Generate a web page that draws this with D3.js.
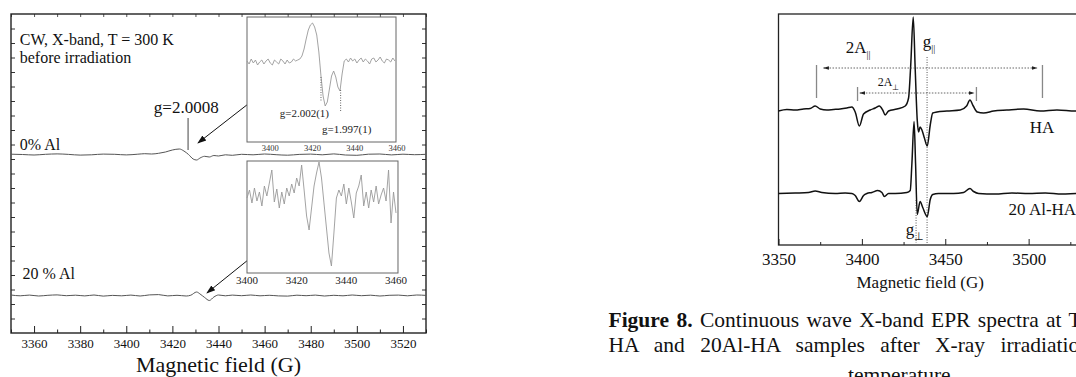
<!DOCTYPE html>
<html><head><meta charset="utf-8">
<script src="https://cdn.jsdelivr.net/npm/d3@7"></script>
<style>body{margin:0;background:#fff}svg{display:block}</style>
</head><body><svg id="c" width="1076" height="377"></svg>
<script>
// ---------------- DATA ----------------
const leftTicks = [3360,3380,3400,3420,3440,3460,3480,3500,3520];
const leftMinor = [3350,3370,3390,3410,3430,3450,3470,3490,3510,3530];
const inset1Ticks = [3400,3420,3440,3460];
const inset2Ticks = [3400,3420,3440,3460];
const rightTicks = [3350,3400,3450,3500];
const rightMinor = [3375,3425,3475,3525];

// 0% Al main spectrum (field G, signal a.u.)
const al0Field = [3350,3355,3360,3365,3370,3375,3380,3385,3390,3395,3400,3405,3408,3411,3414,3417,3420,3423,3425,3427,3429,3430.5,3432,3434,3436,3438,3440,3443,3446,3450,3455,3460,3465,3470,3475,3480,3485,3490,3495,3500,3505,3510,3515,3520,3525,3530];
const al0Value = [0.3,0,-0.5,0.2,0.6,0.1,-0.6,-0.3,0.4,0.2,-0.4,0.3,0.8,0.5,1.2,2.5,4.5,5.5,3.5,0,-4.5,-5.5,-3.5,-1.8,-2.5,-1,-1.5,-0.3,-0.8,0.2,-0.3,0.5,-0.2,-0.7,0.1,0.4,-0.3,0.6,-0.5,-0.8,0.3,0.5,-0.4,0.3,-0.2,0.2];
// 20 % Al main spectrum
const al20Field = [3350,3354,3358,3362,3366,3370,3374,3378,3382,3386,3390,3394,3398,3402,3406,3410,3414,3418,3422,3426,3428,3430.5,3432,3434,3436,3438,3440,3443,3446,3450,3454,3458,3462,3466,3470,3474,3478,3482,3486,3490,3494,3498,3502,3506,3510,3514,3518,3522,3526,3530];
const al20Value = [0.5,-0.3,0.4,-0.5,0.2,0.6,-0.2,0.3,-0.4,0.5,-0.6,0.1,-0.3,0.4,-0.5,0.6,0.9,-0.4,0.2,-0.5,0.3,3.5,1.5,-2,-5,-1.5,0.5,-0.3,0.4,-0.2,0.5,-0.3,0.2,-0.4,-0.6,0.3,-0.2,0.4,-0.5,0.2,-0.3,0.5,-0.2,0.3,-0.5,0.2,0.4,-0.3,0.5,0.1];
// inset 1 (0% Al, zoomed)
const in1Field = [3389,3390,3391,3392,3393,3394,3395,3396,3397,3398,3399,3400,3401,3402,3403,3404,3405,3406,3407,3408,3409,3410,3411,3412,3413,3414,3415,3416,3417,3418,3419,3420,3421,3422,3423,3424,3425,3426,3427,3428,3429,3430,3431,3432,3433,3434,3435,3436,3437,3438,3439,3440,3441,3442,3443,3444,3445,3446,3447,3448,3449,3450,3451,3452,3453,3454,3455,3456,3457,3458,3459];
const in1Value = [1,-2,3,-1,2,-3,0,2,-2,1,3,-1,-3,2,0,-2,3,1,-2,2,-1,0,3,1,2,3,6,13,23,32,37,39,35,27,10,-14,-34,-44,-40,-27,-14,-9,-15,-25,-29,-12,1,3,0,4,1,3,-1,2,4,0,3,1,-2,3,4,0,2,5,1,-1,3,2,0,4,1];
// inset 2 (20 % Al, zoomed)
const in2Field = [3400,3401,3402,3403,3404,3405,3406,3407,3408,3409,3410,3411,3412,3413,3414,3415,3416,3417,3418,3419,3420,3421,3422,3423,3424,3425,3426,3427,3428,3429,3430,3431,3432,3433,3434,3435,3436,3437,3438,3439,3440,3441,3442,3443,3444,3445,3446,3447,3448,3449,3450,3451,3452,3453,3454,3455,3456,3457,3458,3459,3460];
const in2Value = [0,8,-5,10,-3,6,-8,12,2,15,28,-4,9,-10,6,-6,10,2,14,5,20,12,33,8,-18,-32,-10,12,25,36,20,-5,-30,-55,-68,-35,0,8,2,14,-6,10,-4,-20,5,12,23,-8,6,-10,8,-4,12,-6,3,10,-3,28,-25,6,-15];
// right panel: HA and 20 Al-HA after irradiation
const haField = [3350,3355,3360,3365,3369,3372,3375,3379,3383,3387,3391,3394,3396,3398.5,3401,3405,3408,3410.5,3412.5,3414,3416,3421,3426,3428,3429.3,3430.8,3432,3433.2,3434,3434.9,3436,3437.5,3439.2,3441,3442.5,3445,3451,3459,3462.8,3464.8,3466.8,3469.2,3473,3479,3487,3497,3507,3517,3528,3550];
const haValue = [-1,0.5,0,1,1.5,4,1,0,0.5,1,2,3,-2,-16,-4,0,2,4,0,-5,-1,1,4,12,45,93,40,-10,-22,-17,-20,-28,-36,-15,-3,-2,-1,0,4,10,4,-2,-3,-1,0,1,-1,0,-1,0];
const alhaField = [3350,3360,3368,3372,3376,3384,3390,3394,3396,3398.5,3401,3403,3406,3409.5,3412,3413.5,3416,3420,3427,3429,3430,3431.3,3432.2,3433.2,3434.9,3436.5,3439.2,3441,3442.5,3446,3455,3461,3464.8,3467,3470,3480,3490,3500,3510,3520,3530,3550];
const alhaValue = [0,0.5,1,2.5,1,0,0.5,0,-2,-8,-2,0,1,3,1,-3,0,0,1,3,30,72,30,-21,-8,-14,-23,-6,-1,0,0,1,5,2,0,-0.5,0.5,0,0.5,-0.5,0,0];

// caption text
const captionBold = "Figure 8.";
const captionLines = [" Continuous wave X-band EPR spectra at T = 300 K of",
  "HA and 20Al-HA samples after X-ray irradiation at room",
  "temperature."];

// ---------------- DRAWING ----------------
const svg = d3.select("#c");
const serif = '"Liberation Serif","Times New Roman",serif';
const defs = svg.append("defs");
defs.append("marker").attr("id","arr").attr("viewBox","0 0 10 10").attr("refX",9).attr("refY",5)
  .attr("markerWidth",9).attr("markerHeight",9).attr("orient","auto-start-reverse").attr("markerUnits","userSpaceOnUse")
  .append("path").attr("d","M0,1.5L10,5L0,8.5z").attr("fill","#111");
defs.append("marker").attr("id","arr2").attr("viewBox","0 0 10 10").attr("refX",9).attr("refY",5)
  .attr("markerWidth",6).attr("markerHeight",6).attr("orient","auto-start-reverse").attr("markerUnits","userSpaceOnUse")
  .append("path").attr("d","M0,2L10,5L0,8z").attr("fill","#222");

function styleAxis(g, size, col){
  g.select(".domain").remove();
  g.selectAll("line").attr("stroke", col||"#222");
  g.selectAll("text").attr("font-family",serif).attr("font-size",size).attr("fill","#111");
}

// ===== LEFT PANEL =====
const xL = d3.scaleLinear().domain([3350,3530]).range([11,426]);
const yL = d3.scaleLinear().domain([0,319]).range([333,14]);
const gL = svg.append("g");
gL.append("g").attr("transform",`translate(0,${yL(0)})`)
  .call(d3.axisBottom(xL).tickValues(leftTicks).tickSizeInner(-7).tickSizeOuter(0).tickPadding(6).tickFormat(d3.format("d")))
  .call(g=>styleAxis(g,13));
gL.append("g").attr("transform",`translate(0,${yL(0)})`)
  .call(d3.axisBottom(xL).tickValues(leftMinor).tickSizeInner(-3.5).tickSizeOuter(0).tickFormat(""))
  .call(g=>styleAxis(g,13));
gL.append("g").attr("transform",`translate(0,${yL(319)})`)
  .call(d3.axisTop(xL).tickValues(leftTicks.concat(leftMinor)).tickSizeInner(-3).tickSizeOuter(0).tickFormat(""))
  .call(g=>styleAxis(g,13,"#555"));
const yTickVals = d3.range(14.5,319,14.5);
gL.append("g").attr("transform",`translate(${xL(3350)},0)`)
  .call(d3.axisLeft(yL).tickValues(yTickVals).tickSizeInner(-4).tickSizeOuter(0).tickFormat(""))
  .call(g=>styleAxis(g,13,"#333"));
gL.append("g").attr("transform",`translate(${xL(3530)},0)`)
  .call(d3.axisRight(yL).tickValues(yTickVals).tickSizeInner(-4).tickSizeOuter(0).tickFormat(""))
  .call(g=>styleAxis(g,13,"#333"));
gL.append("rect").attr("x",xL(3350)).attr("y",yL(319)).attr("width",xL(3530)-xL(3350)).attr("height",yL(0)-yL(319))
  .attr("fill","none").attr("stroke","#222").attr("stroke-width",1.4);

const off0 = 178.5, off20 = 37.5;
const lineL = (off)=>d3.line().x(d=>xL(d[0])).y(d=>yL(d[1]+off)).curve(d3.curveMonotoneX);
gL.append("path").datum(d3.zip(al0Field,al0Value)).attr("d",lineL(off0)).attr("fill","none").attr("stroke","#555").attr("stroke-width",1);
gL.append("path").datum(d3.zip(al20Field,al20Value)).attr("d",lineL(off20)).attr("fill","none").attr("stroke","#555").attr("stroke-width",1);

const tL = (x,y,s,size,anchor)=>gL.append("text").attr("x",x).attr("y",y).attr("font-family",serif).attr("font-size",size).attr("fill","#111").attr("text-anchor",anchor||"start").text(s);
tL(xL(3353.8),yL(288),"CW, X-band, T = 300 K",16);
tL(xL(3353.8),yL(270),"before irradiation",16);
tL(xL(3353.8),yL(183),"0% Al",16);
tL(xL(3355),yL(54),"20 % Al",16);
tL(xL(3426),yL(220),"g=2.0008",17,"middle");
gL.append("line").attr("x1",xL(3426.8)).attr("x2",xL(3426.8)).attr("y1",yL(215)).attr("y2",yL(183)).attr("stroke","#444").attr("stroke-width",1);
tL((xL(3350)+xL(3530))/2,372,"Magnetic field (G)",22,"middle");

gL.append("line").attr("x1",xL(3458.4)).attr("y1",yL(239)).attr("x2",xL(3431.1)).attr("y2",yL(190))
  .attr("stroke","#111").attr("stroke-width",1).attr("marker-end","url(#arr)");
gL.append("line").attr("x1",xL(3461.4)).attr("y1",yL(89)).attr("x2",xL(3435)).attr("y2",yL(40))
  .attr("stroke","#111").attr("stroke-width",1).attr("marker-end","url(#arr)");

// inset 1
const xI1 = d3.scaleLinear().domain([3389,3459.5]).range([247,396]);
const yI1 = d3.scaleLinear().domain([0,125]).range([142,17]);
const g1 = svg.append("g");
g1.append("rect").attr("x",xI1(3389)).attr("y",yI1(125)).attr("width",xI1(3459.5)-xI1(3389)).attr("height",yI1(0)-yI1(125))
  .attr("fill","#fff").attr("stroke","#666").attr("stroke-width",1);
g1.append("path").datum(d3.zip(in1Field,in1Value)).attr("d",d3.line().x(d=>xI1(d[0])).y(d=>yI1(d[1]+80))).attr("fill","none").attr("stroke","#999").attr("stroke-width",0.9);
g1.append("line").attr("x1",xI1(3424)).attr("x2",xI1(3424)).attr("y1",yI1(65)).attr("y2",yI1(40)).attr("stroke","#666").attr("stroke-dasharray","1,1.5");
g1.append("line").attr("x1",xI1(3433.3)).attr("x2",xI1(3433.3)).attr("y1",yI1(52)).attr("y2",yI1(30)).attr("stroke","#666").attr("stroke-dasharray","1,1.5");
g1.append("text").attr("x",xI1(3404.5)).attr("y",yI1(25)).attr("font-family",serif).attr("font-size",11).attr("fill","#222").text("g=2.002(1)");
g1.append("text").attr("x",xI1(3424.5)).attr("y",yI1(9)).attr("font-family",serif).attr("font-size",11).attr("fill","#222").text("g=1.997(1)");
g1.append("g").selectAll("text").data(inset1Ticks).join("text").attr("x",d=>xI1(d)).attr("y",150.5)
  .attr("text-anchor","middle").attr("font-family",serif).attr("font-size",8.5).attr("fill","#333").text(d=>d);

// inset 2
const xI2 = d3.scaleLinear().domain([3400,3460]).range([247,396]);
const yI2 = d3.scaleLinear().domain([0,112]).range([273,161]);
const g2 = svg.append("g");
g2.append("rect").attr("x",xI2(3400)).attr("y",yI2(112)).attr("width",xI2(3460.8)-xI2(3400)).attr("height",yI2(0)-yI2(112))
  .attr("fill","#fff").attr("stroke","#666").attr("stroke-width",1);
g2.append("path").datum(d3.zip(in2Field,in2Value)).attr("d",d3.line().x(d=>xI2(d[0])).y(d=>yI2(d[1]+75))).attr("fill","none").attr("stroke","#999").attr("stroke-width",0.9);
g2.append("g").selectAll("text").data(inset2Ticks).join("text").attr("x",d=>xI2(d)).attr("y",284)
  .attr("text-anchor","middle").attr("font-family",serif).attr("font-size",11).attr("fill","#222").text(d=>d);

// ===== RIGHT PANEL =====
const xR = d3.scaleLinear().domain([3350,3550]).range([778.5,1112]);
const yR = d3.scaleLinear().domain([0,231]).range([245,14]);
const gR = svg.append("g");
gR.append("g").attr("transform",`translate(0,${yR(0)})`)
  .call(d3.axisBottom(xR).tickValues(rightTicks).tickSizeInner(-6).tickSizeOuter(0).tickPadding(8).tickFormat(d3.format("d")))
  .call(g=>styleAxis(g,17));
gR.append("g").attr("transform",`translate(0,${yR(0)})`)
  .call(d3.axisBottom(xR).tickValues(rightMinor).tickSizeInner(-3).tickSizeOuter(0).tickFormat(""))
  .call(g=>styleAxis(g,17));
gR.append("rect").attr("x",xR(3350)).attr("y",yR(231)).attr("width",xR(3550)-xR(3350)).attr("height",yR(0)-yR(231))
  .attr("fill","none").attr("stroke","#222").attr("stroke-width",1.3);

const offHA = 135, offAl = 51.5;
gR.append("line").attr("x1",xR(3439.1)).attr("x2",xR(3439.1)).attr("y1",yR(188)).attr("y2",yR(2)).attr("stroke","#555").attr("stroke-dasharray","1,1.5");
gR.append("line").attr("x1",xR(3432.5)).attr("x2",xR(3432.5)).attr("y1",yR(45)).attr("y2",yR(2)).attr("stroke","#555").attr("stroke-dasharray","1,1.5");
const lineR = (off)=>d3.line().x(d=>xR(d[0])).y(d=>yR(d[1]+off)).curve(d3.curveMonotoneX);
gR.append("path").datum(d3.zip(haField,haValue)).attr("d",lineR(offHA)).attr("fill","none").attr("stroke","#111").attr("stroke-width",1.5);
gR.append("path").datum(d3.zip(alhaField,alhaValue)).attr("d",lineR(offAl)).attr("fill","none").attr("stroke","#111").attr("stroke-width",1.5);

const bar = (f,y1,y2)=>gR.append("line").attr("x1",xR(f)).attr("x2",xR(f)).attr("y1",yR(y1)).attr("y2",yR(y2)).attr("stroke","#888").attr("stroke-width",1.3);
bar(3372.8,180,147); bar(3508.3,180,147); bar(3397.4,158,144); bar(3468.7,158,144);
gR.append("line").attr("x1",xR(3377)).attr("x2",xR(3505)).attr("y1",yR(177)).attr("y2",yR(177)).attr("stroke","#555").attr("stroke-width",0.9)
  .attr("stroke-dasharray","1.5,1.5").attr("marker-start","url(#arr2)").attr("marker-end","url(#arr2)");
gR.append("line").attr("x1",xR(3398.8)).attr("x2",xR(3467.2)).attr("y1",yR(152)).attr("y2",yR(152)).attr("stroke","#555").attr("stroke-width",0.9)
  .attr("stroke-dasharray","1.5,1.5").attr("marker-start","url(#arr2)").attr("marker-end","url(#arr2)");

function lab(x,y,main,sub,size,subSize){
  const t = gR.append("text").attr("x",x).attr("y",y).attr("font-family",serif).attr("font-size",size).attr("fill","#111");
  t.append("tspan").text(main);
  if(sub) t.append("tspan").attr("font-size",subSize).attr("dy",size*0.3).text(sub);
}
lab(xR(3390.3),53,"2A","||",17,10);
lab(xR(3436.5),47,"g","||",17,10);
lab(xR(3409.5),86,"2A","⊥",12,8);
lab(xR(3426.3),235,"g","⊥",17,11);
lab(xR(3500.7),133,"HA",null,17);
lab(xR(3488),215,"20 Al-HA",null,17);
gR.append("text").attr("x",xR(3435)).attr("y",288).attr("text-anchor","middle").attr("font-family",serif).attr("font-size",17).attr("fill","#111").text("Magnetic field (G)");

// caption
const cap = svg.append("g").attr("font-family",serif).attr("font-size",21.5).attr("fill","#111");
const c1 = cap.append("text").attr("x",608.5).attr("y",327).attr("word-spacing",2);
c1.append("tspan").attr("font-weight","bold").text(captionBold);
c1.append("tspan").text(captionLines[0]);
cap.append("text").attr("x",608.5).attr("y",352).attr("word-spacing",10).text(captionLines[1]);
cap.append("text").attr("x",902).attr("y",382).attr("text-anchor","middle").text(captionLines[2]);
</script></body></html>
